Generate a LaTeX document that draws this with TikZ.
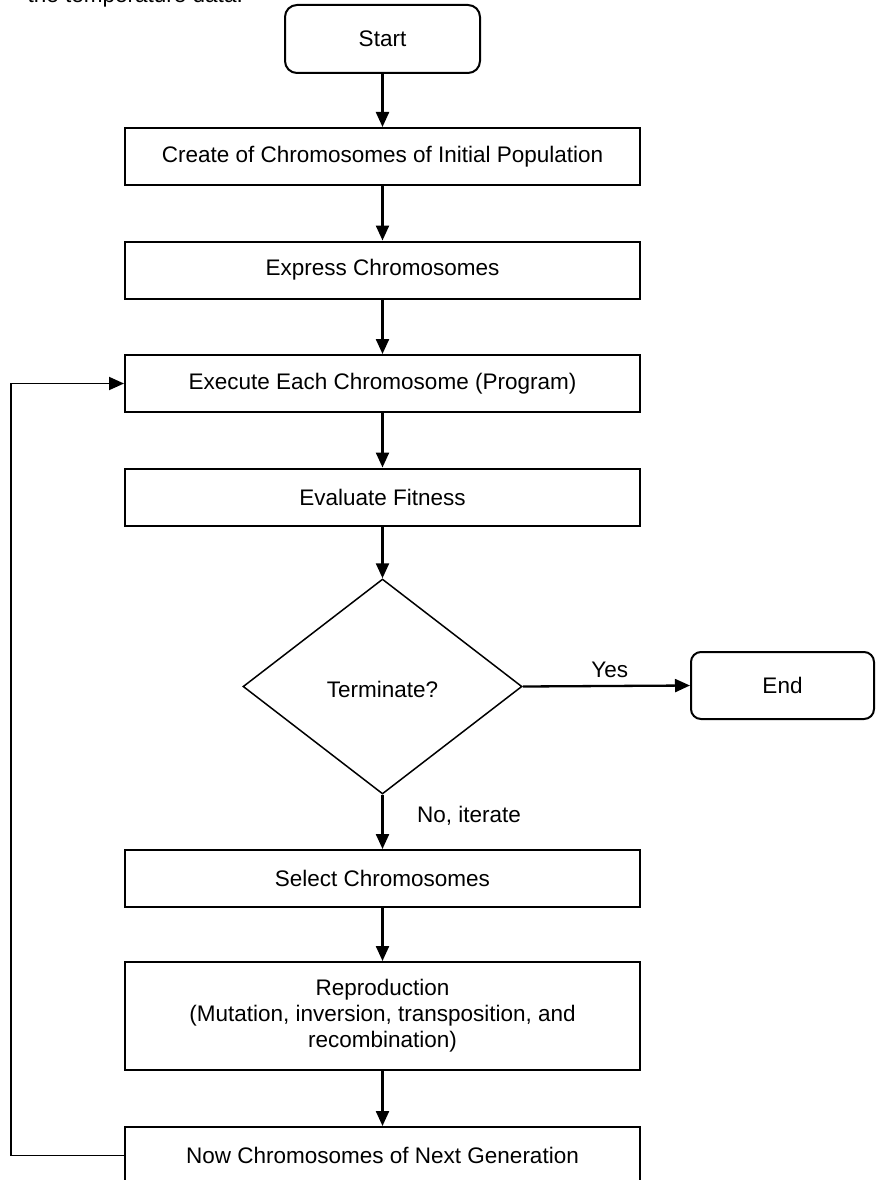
\documentclass[tikz,border=0pt]{standalone}
\usepackage{fontspec}
\setmainfont{Liberation Sans}
\usetikzlibrary{shapes.geometric,arrows.meta}
\begin{document}
\begin{tikzpicture}[x=1pt,y=-1pt,
  every node/.style={font=\fontsize{22.5}{26}\selectfont},
  procbox/.style={draw,line width=2pt,rectangle,minimum width=515pt,minimum height=57pt,inner sep=0pt,align=center},
  termbox/.style={draw,line width=2pt,rectangle,rounded corners=12pt,inner sep=0pt},
  decbox/.style={draw,line width=1.5pt,diamond,minimum width=279pt,minimum height=215pt,inner sep=0pt},
  flow/.style={line width=2.3pt,-{Triangle[length=15pt,width=13pt]}},
  loopline/.style={line width=1.9pt,-{Triangle[length=15pt,width=13pt]}},
  lbl/.style={inner sep=0pt}]
\useasboundingbox (0,0) rectangle (876,1180);
\clip (0,0) rectangle (876,1180);
\node[lbl,anchor=base east] (cut) at (243,3) {the temperature data.};
\node[termbox,minimum width=195pt,minimum height=68pt] (start) at (382.5,39) {Start};
\node[procbox] (b1) at (382.5,156.5) {Create of Chromosomes of Initial Population};
\node[procbox] (b2) at (382.5,270) {Express Chromosomes};
\node[procbox] (b3) at (382.5,383.5) {Execute Each Chromosome (Program)};
\node[procbox] (b4) at (382.5,497) {Evaluate Fitness};
\node[decbox] (dec) at (382.5,686.5) {};
\node[lbl] (dectext) at (382.5,689) {Terminate?};
\node[termbox,minimum width=183pt,minimum height=67pt,rounded corners=10pt] (end) at (782.5,685.5) {End};
\node[procbox] (sel) at (382.5,878.5) {Select Chromosomes};
\node[procbox,minimum height=108pt] (rep) at (382.5,1016) {Reproduction\\(Mutation, inversion, transposition, and\\recombination)};
\node[procbox] (now) at (382.5,1155.5) {Now Chromosomes of Next Generation};
\coordinate (lp) at (11,1155.5);
\draw[flow] (start) -- (b1);
\draw[flow] (b1) -- (b2);
\draw[flow] (b2) -- (b3);
\draw[flow] (b3) -- (b4);
\draw[flow] (b4) -- (dec.north);
\draw[flow] (dec.east) -- node[lbl,above=7pt,pos=0.52] (yes) {Yes} (end.west);
\draw[flow] (dec.south) -- (sel.north);
\node[lbl,anchor=base west] (no) at (417,822) {No, iterate};
\draw[flow] (sel) -- (rep);
\draw[flow] (rep) -- (now);
\draw[loopline] (now.west) -- (lp) |- (b3.west);
\end{tikzpicture}
\end{document}
